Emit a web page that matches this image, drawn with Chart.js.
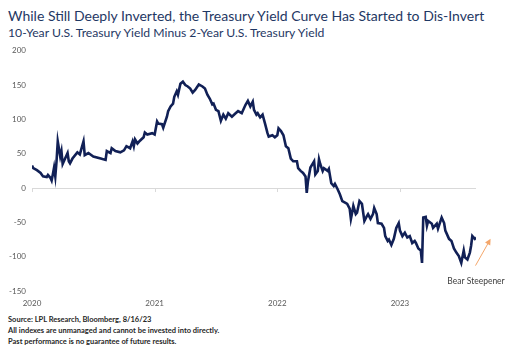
<!DOCTYPE html>
<html>
<head>
<meta charset="utf-8">
<script src="https://cdn.jsdelivr.net/npm/chart.js@4.4.0/dist/chart.umd.min.js"></script>
<style>
  body { margin: 0; background: #fff; width: 522px; height: 364px; position: relative; overflow: hidden; }
  .txt { position: absolute; left: 8px; font-family: Lato, sans-serif; white-space: nowrap; }
  #title { top: 7px; font-size: 14px; color: #1f3864; }
  #sub { top: 25px; font-size: 12.2px; color: #1f3864; }
  #wrap { position: absolute; left: 0; top: 40px; width: 522px; height: 270px; }
  .note { font-size: 7.5px; font-weight: bold; color: #262626; }
</style>
</head>
<body>
<div id="title" class="txt">While Still Deeply Inverted, the Treasury Yield Curve Has Started to Dis-Invert</div>
<div id="sub" class="txt">10-Year U.S. Treasury Yield Minus 2-Year U.S. Treasury Yield</div>
<div id="wrap"><canvas id="chart" width="522" height="270"></canvas></div>
<div class="txt note" style="top:315px">Source: LPL Research, Bloomberg, 8/16/23</div>
<div class="txt note" style="top:326px">All indexes are unmanaged and cannot be invested into directly.</div>
<div class="txt note" style="top:337px">Past performance is no guarantee of future results.</div>
<script>
// dates as decimal years, spread in basis points
const dates = [
  2020.00, 2020.01, 2020.04, 2020.07, 2020.09, 2020.12, 2020.13, 2020.15, 2020.16, 2020.17,
  2020.18, 2020.19, 2020.20, 2020.21, 2020.23, 2020.24, 2020.25, 2020.27, 2020.29, 2020.30,
  2020.31, 2020.33, 2020.37, 2020.39, 2020.42, 2020.43, 2020.46, 2020.50, 2020.56, 2020.60,
  2020.61, 2020.64, 2020.65, 2020.68, 2020.72, 2020.75, 2020.77, 2020.80, 2020.82, 2020.83,
  2020.84, 2020.86, 2020.88, 2020.91, 2020.92, 2020.94, 2020.98, 2021.00, 2021.02, 2021.03,
  2021.06, 2021.07, 2021.10, 2021.11, 2021.13, 2021.15, 2021.16, 2021.18, 2021.19, 2021.21,
  2021.23, 2021.25, 2021.27, 2021.29, 2021.31, 2021.33, 2021.36, 2021.39, 2021.41, 2021.43,
  2021.45, 2021.47, 2021.48, 2021.50, 2021.52, 2021.54, 2021.56, 2021.58, 2021.60, 2021.63,
  2021.66, 2021.68, 2021.71, 2021.74, 2021.76, 2021.78, 2021.80, 2021.81, 2021.83, 2021.84,
  2021.86, 2021.88, 2021.90, 2021.92, 2021.93, 2021.96, 2021.98, 2022.00, 2022.01, 2022.03,
  2022.05, 2022.07, 2022.09, 2022.11, 2022.13, 2022.16, 2022.17, 2022.19, 2022.21, 2022.23,
  2022.24, 2022.25, 2022.27, 2022.29, 2022.30, 2022.31, 2022.33, 2022.34, 2022.35, 2022.37,
  2022.38, 2022.41, 2022.42, 2022.44, 2022.46, 2022.47, 2022.49, 2022.51, 2022.53, 2022.56,
  2022.57, 2022.59, 2022.60, 2022.61, 2022.62, 2022.64, 2022.65, 2022.67, 2022.69, 2022.71,
  2022.73, 2022.74, 2022.76, 2022.78, 2022.79, 2022.81, 2022.82, 2022.85, 2022.87, 2022.88,
  2022.90, 2022.91, 2022.93, 2022.95, 2022.97, 2022.99, 2023.00, 2023.02, 2023.04, 2023.06,
  2023.08, 2023.10, 2023.12, 2023.13, 2023.15, 2023.17, 2023.18, 2023.19, 2023.21, 2023.22,
  2023.23, 2023.26, 2023.27, 2023.30, 2023.31, 2023.34, 2023.36, 2023.37, 2023.40, 2023.42,
  2023.44, 2023.46, 2023.48, 2023.50, 2023.52, 2023.53, 2023.55, 2023.57, 2023.58, 2023.59,
  2023.61, 2023.62
];
const spread = [
  33, 29, 26, 22, 17, 16, 19, 15, 11, 20,
  30, 17, 39, 68, 46, 54, 35, 43, 51, 39,
  36, 43, 52, 49, 68, 48, 51, 46, 43, 41,
  54, 51, 58, 54, 52, 55, 61, 58, 68, 61,
  71, 65, 69, 74, 81, 78, 80, 78, 97, 94,
  93, 88, 104, 112, 119, 123, 133, 141, 136, 152,
  155, 150, 148, 145, 139, 143, 151, 148, 145, 136,
  130, 122, 123, 114, 112, 98, 107, 101, 109, 104,
  109, 112, 109, 121, 127, 119, 126, 114, 107, 109,
  103, 107, 94, 80, 75, 77, 74, 77, 87, 83,
  77, 61, 58, 43, 39, 39, 29, 25, 22, 17,
  -7, 10, 30, 36, 39, 20, 25, 42, 35, 25,
  29, 25, 28, 7, 3, 6, -1, -9, -19, -22,
  -23, -30, -45, -36, -26, -38, -36, -19, -23, -48,
  -41, -38, -45, -38, -29, -38, -51, -52, -58, -70,
  -77, -75, -83, -74, -58, -51, -62, -70, -65, -72,
  -70, -80, -77, -80, -88, -91, -109, -43, -42, -55,
  -48, -52, -58, -52, -59, -43, -51, -62, -74, -77,
  -88, -94, -99, -109, -91, -101, -104, -94, -84, -70,
  -74, -72
];
const yearTicks = [2020, 2021, 2022, 2023];
const yTicks = [-150, -100, -50, 0, 50, 100, 150, 200];
const note = { text: 'Bear Steepener', x: 2023.62, y: -136, from: [2023.616, -113], to: [2023.739, -74] };

const zeroTicks = {
  id: 'zeroTicks',
  afterDraw(chart) {
    const c = chart.ctx, xs = chart.scales.x, ys = chart.scales.y;
    const y0 = ys.getPixelForValue(0);
    c.save();
    c.strokeStyle = '#d9d9d9';
    c.lineWidth = 1;
    yearTicks.forEach(v => {
      const px = Math.round(xs.getPixelForValue(v)) + 0.5;
      c.beginPath(); c.moveTo(px, y0); c.lineTo(px, y0 + 4); c.stroke();
    });
    c.restore();
  }
};

const annot = {
  id: 'annot',
  afterDatasetsDraw(chart) {
    const c = chart.ctx, xs = chart.scales.x, ys = chart.scales.y;
    const x1 = xs.getPixelForValue(note.from[0]), y1 = ys.getPixelForValue(note.from[1]);
    const x2 = xs.getPixelForValue(note.to[0]), y2 = ys.getPixelForValue(note.to[1]);
    c.save();
    c.strokeStyle = '#f4a66a';
    c.fillStyle = '#f4a66a';
    c.lineWidth = 1;
    const a = Math.atan2(y2 - y1, x2 - x1);
    c.beginPath(); c.moveTo(x1, y1); c.lineTo(x2 - 4 * Math.cos(a), y2 - 4 * Math.sin(a)); c.stroke();
    c.beginPath();
    c.moveTo(x2, y2);
    c.lineTo(x2 - 6 * Math.cos(a) + 3 * Math.sin(a), y2 - 6 * Math.sin(a) - 3 * Math.cos(a));
    c.lineTo(x2 - 6 * Math.cos(a) - 3 * Math.sin(a), y2 - 6 * Math.sin(a) + 3 * Math.cos(a));
    c.closePath(); c.fill();
    c.fillStyle = '#404040';
    c.font = '8.5px Lato, sans-serif';
    c.textAlign = 'center';
    c.textBaseline = 'middle';
    c.fillText(note.text, xs.getPixelForValue(note.x), ys.getPixelForValue(note.y));
    c.restore();
  }
};

const ctx = document.getElementById('chart').getContext('2d');
const chart = new Chart(ctx, {
  type: 'line',
  data: {
    datasets: [{
      data: dates.map((d, i) => ({ x: d, y: spread[i] })),
      borderColor: '#112056',
      borderWidth: 2.6,
      pointRadius: 0,
      tension: 0
    }]
  },
  options: {
    responsive: false,
    animation: false,
    layout: { padding: { top: 9, right: 46, left: 0, bottom: 0 } },
    plugins: { legend: { display: false }, tooltip: { enabled: false } },
    scales: {
      x: {
        type: 'linear',
        min: 2020,
        max: 2023.62,
        afterBuildTicks: s => { s.ticks = yearTicks.map(v => ({ value: v })); },
        afterFit: s => { s.height = 19; },
        grid: { display: false },
        border: { display: false },
        ticks: { color: '#595959', font: { family: 'Lato', size: 8 }, padding: 0, maxRotation: 0, callback: v => String(v) }
      },
      y: {
        min: -150,
        max: 200,
        afterBuildTicks: s => { s.ticks = yTicks.map(v => ({ value: v })); },
        afterFit: s => { s.width = 32; },
        grid: { color: c => c.tick.value === 0 ? '#d9d9d9' : 'transparent', drawTicks: false },
        border: { display: false },
        ticks: { color: '#595959', font: { family: 'Lato', size: 8 }, padding: 6 }
      }
    }
  },
  plugins: [zeroTicks, annot]
});
</script>
</body>
</html>
